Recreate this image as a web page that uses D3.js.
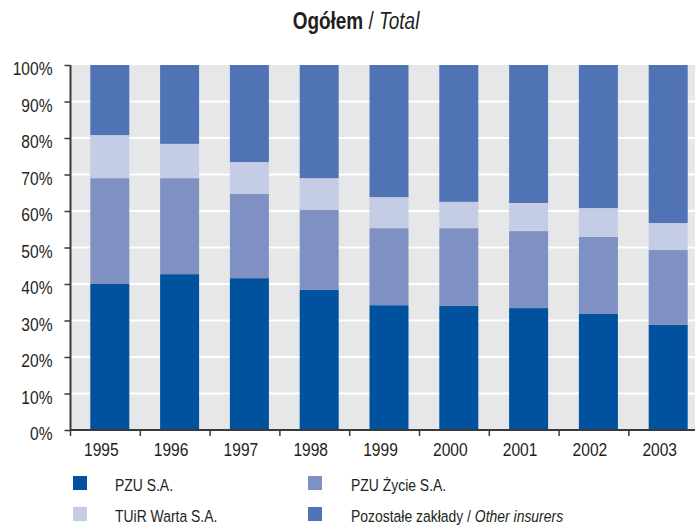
<!DOCTYPE html>
<html>
<head>
<meta charset="utf-8">
<script src="https://cdn.jsdelivr.net/npm/d3@7"></script>
<style>
  html, body { margin: 0; padding: 0; background: #fff; }
  svg text { font-family: "Liberation Sans", Arial, sans-serif; fill: #231f20; }
</style>
</head>
<body>
<svg id="chart" width="695" height="529"></svg>
<script>
const years = ["1995","1996","1997","1998","1999","2000","2001","2002","2003"];
const seriesNames = ["PZU S.A.", "PZU Życie S.A.", "TUiR Warta S.A.", "Pozostałe zakłady"];
const pzu      = [40.0, 42.7, 41.6, 38.4, 34.2, 34.0, 33.4, 31.8, 28.8];
const pzuZycie = [29.0, 26.3, 23.1, 21.9, 21.1, 21.3, 21.1, 21.1, 20.5];
const warta    = [11.8,  9.4,  8.7,  8.7,  8.5,  7.2,  7.7,  7.9,  7.4];
const others   = [19.2, 21.6, 26.6, 31.0, 36.2, 37.5, 37.8, 39.2, 43.3];
const yTicks = [0,10,20,30,40,50,60,70,80,90,100];
const colors = ["#00519e", "#7f90c3", "#c5cde6", "#5073b5"];

const svg = d3.select("#chart");
const pL = 70.5, pR = 695, pT = 65, pB = 430;
const SX = 0.82; // horizontal condensing of text

function condense(sel, s) {
  sel.each(function() {
    const t = d3.select(this);
    const xv = +(t.attr("x") || 0);
    const tr = t.attr("transform") || "";
    t.attr("x", xv / s).attr("transform", tr + ` scale(${s},1)`);
  });
}

const x = d3.scaleBand().domain(years).range([pL, pL + 9*69.8]).paddingInner(0).paddingOuter(0);
const y = d3.scaleLinear().domain([0,100]).range([pB, pT]);

// background
svg.append("rect").attr("x", pL).attr("y", pT).attr("width", pR-pL).attr("height", pB-pT).attr("fill", "#e6e7e9");

// gridlines
svg.append("g").selectAll("line").data(yTicks.filter(d => d > 0 && d < 100)).join("line")
  .attr("x1", pL).attr("x2", pR)
  .attr("y1", d => y(d)).attr("y2", d => y(d))
  .attr("stroke", "#fff").attr("stroke-width", 2);

// stack
const rows = years.map((yr,i) => ({year: yr, s0: pzu[i], s1: pzuZycie[i], s2: warta[i], s3: others[i]}));
const stack = d3.stack().keys(["s0","s1","s2","s3"])(rows);

svg.append("g").selectAll("g").data(stack).join("g")
  .attr("fill", (d,i) => colors[i])
  .selectAll("rect").data(d => d).join("rect")
  .attr("x", d => x(d.data.year) + 19.8)
  .attr("width", 39)
  .attr("y", d => y(Math.min(d[1], 100)))
  .attr("height", d => y(d[0]) - y(Math.min(d[1], 100)));

// y axis
const yAxis = svg.append("g").attr("transform", `translate(${pL},0)`)
  .call(d3.axisLeft(y).tickValues(yTicks).tickFormat(d => d + "%").tickSize(6).tickPadding(12));
yAxis.select(".domain").attr("stroke", "#3a3a3a").attr("stroke-width", 2).attr("d", `M0,${pT}V${pB}`);
yAxis.selectAll(".tick line").attr("stroke", "#3a3a3a").attr("stroke-width", 1.5);
yAxis.selectAll(".tick text").attr("font-size", 19).attr("dy", "0.5em")
  .style("font-family", '"Liberation Sans", Arial, sans-serif').attr("fill", "#231f20");
condense(yAxis.selectAll(".tick text"), SX);

// x axis
const xAxis = svg.append("g").attr("transform", `translate(0,${pB})`)
  .call(d3.axisBottom(x).tickSize(0).tickPadding(13));
xAxis.select(".domain").attr("stroke", "#3a3a3a").attr("stroke-width", 2).attr("d", `M${pL},0H${pR}`);
xAxis.selectAll(".tick text").attr("font-size", 19).attr("dx", "-5")
  .style("font-family", '"Liberation Sans", Arial, sans-serif').attr("fill", "#231f20");
condense(xAxis.selectAll(".tick text"), SX);
// tick marks at band boundaries
xAxis.append("g").selectAll("line").data(years).join("line")
  .attr("x1", d => x(d)).attr("x2", d => x(d))
  .attr("y1", 0).attr("y2", 6)
  .attr("stroke", "#3a3a3a").attr("stroke-width", 1.5);

// title
const title = svg.append("text").attr("x", 356).attr("y", 29.5).attr("text-anchor", "middle").attr("font-size", 24);
title.append("tspan").attr("font-weight", "bold").text("Ogółem");
title.append("tspan").text(" / ");
title.append("tspan").attr("font-style", "italic").text("Total");
condense(title, 0.79);

// legend
const legendPos = [[73,476],[308,476],[73,507],[308,507]];
const legendLabels = [
  [{t: "PZU S.A."}],
  [{t: "PZU Życie S.A."}],
  [{t: "TUiR Warta S.A."}],
  [{t: "Pozostałe zakłady / "}, {t: "Other insurers", it: true}]
];
const order = [0,1,2,3];
const lg = svg.append("g").selectAll("g").data(order).join("g")
  .attr("transform", i => `translate(${legendPos[i][0]},${legendPos[i][1]})`);
lg.append("rect").attr("width", 14).attr("height", 14).attr("fill", i => colors[i]);
const lt = lg.append("text").attr("x", i => i % 2 === 0 ? 42 : 43).attr("y", 15).attr("font-size", 17)
  .each(function(i) {
    const t = d3.select(this);
    legendLabels[i].forEach(p => t.append("tspan").attr("font-style", p.it ? "italic" : null).text(p.t));
  });
condense(lt, SX);
</script>
</body>
</html>
